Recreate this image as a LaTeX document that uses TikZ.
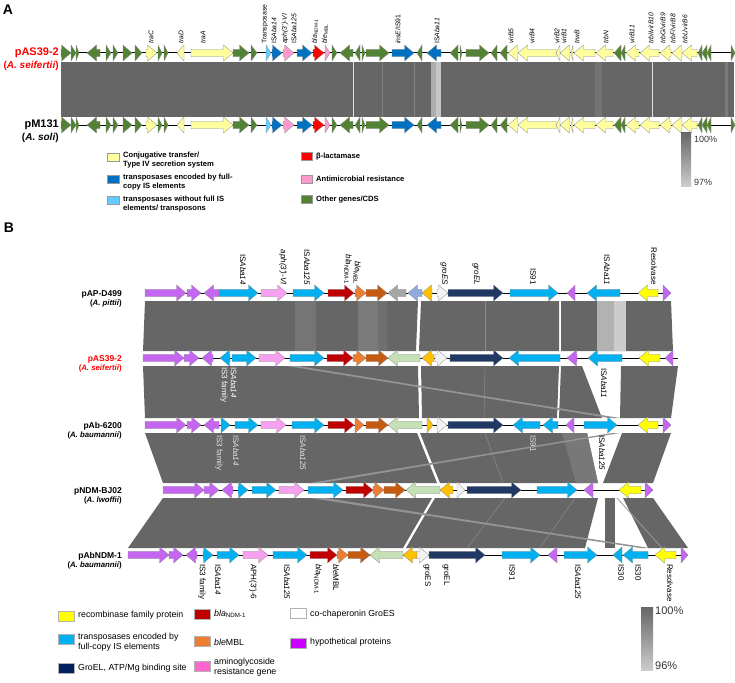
\documentclass[tikz,border=0pt]{standalone}
\usepackage{fontspec}
\setmainfont{Liberation Sans}
\usepackage{xcolor}
\usetikzlibrary{positioning}

\definecolor{bandgray}{RGB}{102,102,102}
\definecolor{cgreen}{RGB}{84,130,53}
\definecolor{cyel}{RGB}{255,255,160}
\definecolor{cblue}{RGB}{0,112,192}
\definecolor{clblue}{RGB}{102,204,255}
\definecolor{cred}{RGB}{255,0,0}
\definecolor{cpink}{RGB}{255,153,204}
\definecolor{hpurple}{RGB}{196,102,240}
\definecolor{hsky}{RGB}{0,176,240}
\definecolor{hpink}{RGB}{248,160,240}
\definecolor{hdred}{RGB}{192,0,0}
\definecolor{horange}{RGB}{237,125,49}
\definecolor{hbrown}{RGB}{197,90,17}
\definecolor{hgray}{RGB}{166,166,166}
\definecolor{hsteel}{RGB}{142,170,219}
\definecolor{hamber}{RGB}{255,192,0}
\definecolor{hwhite}{RGB}{242,242,242}
\definecolor{hnavy}{RGB}{31,56,100}
\definecolor{hlgreen}{RGB}{197,224,180}
\definecolor{hyellow}{RGB}{255,255,0}
\definecolor{kpurple}{RGB}{204,0,255}
\definecolor{knavy}{RGB}{0,32,96}
\definecolor{kpink}{RGB}{255,102,204}

\newcommand{\headlen}{9.5}
\newcommand{\bodyh}{3.7}
\newcommand{\headh}{8}
% gene arrows: x start, x end, y, colour
\newcommand{\gR}[4]{%
  \pgfmathsetmacro{\hx}{max(#1,#2-\headlen)}%
  \filldraw[gene,fill=#4] (#1,#3-\bodyh) -- (\hx,#3-\bodyh) -- (\hx,#3-\headh) -- (#2,#3) -- (\hx,#3+\headh) -- (\hx,#3+\bodyh) -- (#1,#3+\bodyh) -- cycle;}
\newcommand{\gL}[4]{%
  \pgfmathsetmacro{\hx}{min(#2,#1+\headlen)}%
  \filldraw[gene,fill=#4] (#2,#3-\bodyh) -- (\hx,#3-\bodyh) -- (\hx,#3-\headh) -- (#1,#3) -- (\hx,#3+\headh) -- (\hx,#3+\bodyh) -- (#2,#3+\bodyh) -- cycle;}

\begin{document}
\begin{tikzpicture}[x=1pt, y=-1pt,
  every node/.style={font=\fontsize{8}{9.5}\selectfont, inner sep=0pt},
  gene/.style={draw=black!45, line width=0.3pt},
  backbone/.style={line width=1pt, black},
  panel/.style={font=\fontsize{14}{14}\selectfont\bfseries},
  lblA/.style={rotate=90, anchor=west, font=\fontsize{6.8}{7}\selectfont},
  lblB/.style={rotate=-90, anchor=east, font=\fontsize{8}{9}\selectfont},
  lblBd/.style={rotate=-90, anchor=west, align=left, font=\fontsize{8}{9}\selectfont},
  trkA/.style={anchor=east, align=right, font=\fontsize{11}{13}\selectfont\bfseries},
  trkB/.style={anchor=east, align=right, font=\fontsize{8.5}{9}\selectfont\bfseries},
  keyA/.style={draw=black!40, line width=0.3pt, minimum width=12pt, minimum height=8pt},
  keyAt/.style={anchor=north west, align=left, font=\fontsize{7.6}{8.5}\selectfont\bfseries},
  keyB/.style={draw=black!30, line width=0.3pt, minimum width=16pt, minimum height=10pt},
  keyBt/.style={anchor=north west, align=left, font=\fontsize{8.8}{10}\selectfont}]
\useasboundingbox (0,0) rectangle (735,682);

% ---------------- Panel A ----------------
\node[panel] (labA) at (8,10) {A};
\fill[bandgray] (61,62) rectangle (734,117);
\fill[black!12] (352.5,62) rectangle (353.8,117);
\fill[black!50] (381.5,62) rectangle (382.5,117);
\fill[black!48] (413.5,62) rectangle (414.5,117);
\fill[black!32] (431,62) rectangle (436,117);
\fill[black!22] (436,62) rectangle (441,117);
\fill[black!55] (595,62) rectangle (602,117);
\fill[black!12] (651.5,62) rectangle (652.7,117);
\fill[black!52] (725,62) rectangle (728,117);

\foreach \ty in {53,125}{
  \draw[backbone] (61,\ty) -- (735,\ty);
  \foreach \a/\b/\d/\c in {61/71/R/cgreen, 71/76/R/cgreen, 76/79/R/cgreen, 87/100/L/cgreen,
      106/111/R/cgreen, 113/118/R/cgreen, 123/132/R/cgreen, 135/142/R/cgreen, 146/157/R/cyel,
      158/162/R/cgreen, 164/168/R/cgreen, 177/184/L/cyel, 191/233/R/cyel, 233/249/R/cgreen,
      251/257/R/cgreen, 266/271/R/clblue, 272/282/R/cblue, 283/294/R/cpink, 297/312/R/cblue,
      313/324/R/cred, 325/330/R/cpink, 332/337/R/cgreen, 340/353/L/cgreen, 355/360/L/cgreen,
      362/365/R/cgreen, 366/389/R/cgreen, 392/414/R/cblue, 417/422/L/cgreen, 427/441/L/cblue,
      450/458/L/cgreen, 460/462/R/cgreen, 466/489/R/cgreen, 491/497/L/cgreen, 500/507/L/cgreen,
      508/518/L/cyel, 518/556/L/cyel, 556/560/L/cyel, 560/570/L/cyel, 571/573/L/cyel,
      574/595/L/cyel, 596/613/L/cyel, 614/621/L/cgreen, 621/625/L/cgreen, 626/639/L/cyel,
      640/659/L/cyel, 660/671/L/cyel, 672/682/L/cyel, 682/697/L/cyel, 698/702/L/cgreen,
      702/707/L/cgreen, 707/711/L/cgreen, 731/735/R/cgreen}
    {\csname g\d\endcsname{\a}{\b}{\ty}{\c}}
}

\foreach \x/\t in {151/\textit{traC}, 181/\textit{traD}, 203/\textit{traA}, 265/Transposase,
    274/IS\textit{Aba14}, 285/\textit{aph(3')-VI}, 294/IS\textit{Aba125},
    315/{\textit{bla}\textsubscript{NDM-1}}, 325/{\textit{ble}\textsubscript{MBL}},
    398/{\textit{insE}/IS91}, 437/IS\textit{Aba11}, 511/\textit{virB5}, 532/\textit{virB4},
    557/\textit{virB2}, 564/\textit{virB1}, 577/\textit{trwB}, 606/\textit{trbN},
    632/\textit{virB11}, 651/{\textit{trbI}/\textit{virB10}}, 663/{\textit{trbG}/\textit{virB9}},
    673/{\textit{trbF}/\textit{virB8}}, 685/{\textit{trbL}/\textit{virB6}}}
  \node[lblA] (la\x) at (\x,44) {\t};

\node[trkA, text=red] (nmAS) at (59,59.5) {pAS39-2\\{\fontsize{10}{13}\selectfont(\textit{A. seifertii})}};
\node[trkA] (nmM) at (59,131.5) {pM131\\{\fontsize{10}{13}\selectfont(\textit{A. soli})}};

% legend A
\node[keyA, fill=cyel] (kConj) at (113,157) {};
\node[keyAt] (tConj) at (123,152) {Conjugative transfer/\\Type IV secretion system};
\node[keyA, fill=cblue] (kFull) at (113,179) {};
\node[keyAt] (tFull) at (123,174) {transposases encoded by full-\\copy IS elements};
\node[keyA, fill=clblue] (kPart) at (113,200.5) {};
\node[keyAt] (tPart) at (123,196) {transposases without full IS\\elements/ transposons};
\node[keyA, fill=cred, minimum width=11pt] (kBla) at (307,156.5) {};
\node[keyAt] (tBla) at (316,152.5) {β-lactamase};
\node[keyA, fill=cpink, minimum width=11pt] (kAmr) at (307,179.5) {};
\node[keyAt] (tAmr) at (316,175.5) {Antimicrobial resistance};
\node[keyA, fill=cgreen, minimum width=11pt] (kOth) at (307,199.5) {};
\node[keyAt] (tOth) at (316,195.5) {Other genes/CDS};

\shade[top color=bandgray, bottom color=black!20] (681,132) rectangle (691,186);
\node[anchor=west, font=\fontsize{9}{9}\selectfont, text=black!80] (sA1) at (694,139) {100\%};
\node[anchor=west, font=\fontsize{9}{9}\selectfont, text=black!80] (sA2) at (694,182) {97\%};

% ---------------- Panel B ----------------
\node[panel] (labB) at (9,228) {B};

% pAP-D499 / pAS39-2
\fill[bandgray] (145,301) -- (418,301) -- (416,351) -- (143,351) -- cycle;
\fill[black!54] (295,301) rectangle (316,351);
\fill[black!52] (358,301) rectangle (378,351);
\fill[black!56] (378,301) rectangle (387,351);
\fill[bandgray] (421,301) -- (559,301) -- (559,351) -- (419,351) -- cycle;
\draw[black!45, line width=0.6pt] (485,301) -- (485,351);
\fill[bandgray] (561,301) -- (671,301) -- (673,351) -- (561,351) -- cycle;
\fill[black!30] (597,301) rectangle (614,351);
\fill[black!20] (614,301) rectangle (626,351);

% pAS39-2 / pAb-6200
\fill[bandgray] (143,366) -- (418,366) -- (419,418) -- (145,418) -- cycle;
\fill[bandgray] (421,366) -- (559,366) -- (557,418) -- (422,418) -- cycle;
\draw[black!45, line width=0.5pt] (485,366) -- (484,418);
\fill[bandgray] (561,366) -- (582,366) -- (602,418) -- (559,418) -- cycle;
\fill[bandgray] (621,366) -- (678,366) -- (671,418) -- (620,418) -- cycle;
\fill[black!42] (287,366) -- (298,366) -- (620,418) -- (609,418) -- cycle;

% pAb-6200 / pNDM-BJ02
\fill[bandgray] (145,433) -- (417,433) -- (437,483) -- (163,483) -- cycle;
\fill[bandgray] (420,433) -- (587,433) -- (598,483) -- (440,483) -- cycle;
\fill[black!53] (562,433) -- (587,433) -- (598,483) -- (576,483) -- cycle;
\fill[bandgray] (622,433) -- (671,433) -- (653,483) -- (603,483) -- cycle;
\draw[black!45, line width=0.5pt] (485,433) -- (503,483);
\fill[black!42] (612,433) -- (620,433) -- (322,483) -- (310,483) -- cycle;

% pNDM-BJ02 / pAbNDM-1
\fill[bandgray] (163,498) -- (432,498) -- (403,548) -- (128,548) -- cycle;
\fill[bandgray] (435,498) -- (598,498) -- (585,548) -- (406,548) -- cycle;
\fill[bandgray] (605,498) rectangle (615,548);
\fill[bandgray] (623,498) -- (653,498) -- (688,548) -- (648,548) -- cycle;
\draw[black!45, line width=0.5pt] (505,498) -- (467,548);
\draw[black!45, line width=0.5pt] (575,498) -- (540,548);
\draw[black!40, line width=0.8pt] (617,498) -- (662,548);
\fill[black!42] (310,498) -- (325,498) -- (650,548) -- (640,548) -- cycle;

% tracks
\draw[backbone] (145,293) -- (671,293);
\foreach \a/\b/\d/\c in {145/186/R/hpurple, 187/201/R/hpurple, 204/219/L/hpurple, 219/258/R/hsky,
    261/287/R/hpink, 293/324/R/hsky, 328/354/R/hdred, 355/366/R/horange, 366/387/R/hbrown,
    388/406/L/hgray, 408/422/L/hsteel, 422/432/L/hamber, 437/448/R/hwhite, 448/503/R/hnavy,
    510/558/R/hsky, 567/575/L/hpurple, 587/620/L/hsky, 638/658/L/hyellow, 663/671/R/hpurple}
  {\csname g\d\endcsname{\a}{\b}{293}{\c}}

\draw[backbone] (143,358) -- (678,358);
\foreach \a/\b/\d/\c in {143/184/R/hpurple, 184/199/R/hpurple, 202/213/L/hpurple, 220/230/L/hsky,
    232/256/R/hsky, 259/285/R/hpink, 290/324/R/hsky, 327/353/R/hdred, 353/366/R/horange,
    366/388/R/hbrown, 388/420/L/hlgreen, 422/434/L/hamber, 435/447/R/hwhite, 450/503/R/hnavy,
    509/560/L/hsky, 567/577/L/hpurple, 588/622/L/hsky, 639/660/L/hyellow, 665/673/L/hpurple}
  {\csname g\d\endcsname{\a}{\b}{358}{\c}}

\draw[backbone] (145,425) -- (671,425);
\foreach \a/\b/\d/\c in {145/186/R/hpurple, 187/201/R/hpurple, 204/219/L/hpurple, 221/230/R/hsky,
    235/258/R/hsky, 261/286/R/hpink, 292/324/R/hsky, 328/354/R/hdred, 355/364/R/horange,
    366/388/R/hbrown, 388/422/L/hlgreen, 427/433/R/hamber, 437/447/R/hwhite, 448/503/R/hnavy,
    513/540/L/hsky, 543/558/L/hsky, 566/574/L/hpurple, 584/617/R/hsky, 638/658/L/hyellow,
    663/671/R/hpurple}
  {\csname g\d\endcsname{\a}{\b}{425}{\c}}

\draw[backbone] (163,490) -- (653,490);
\foreach \a/\b/\d/\c in {163/204/R/hpurple, 204/219/R/hpurple, 222/233/L/hpurple, 238/248/R/hsky,
    252/276/R/hsky, 279/304/R/hpink, 308/343/R/hsky, 346/373/R/hdred, 373/384/R/horange,
    384/405/R/hbrown, 406/440/L/hlgreen, 440/453/L/hamber, 457/465/R/hwhite, 467/521/R/hnavy,
    537/577/R/hsky, 584/593/L/hpurple, 619/641/L/hyellow, 645/653/R/hpurple}
  {\csname g\d\endcsname{\a}{\b}{490}{\c}}

\draw[backbone] (128,555) -- (688,555);
\foreach \a/\b/\d/\c in {128/169/R/hpurple, 169/183/R/hpurple, 186/197/L/hpurple, 203/213/R/hsky,
    217/239/R/hsky, 243/268/R/hpink, 273/307/R/hsky, 310/337/R/hdred, 337/348/R/horange,
    348/370/R/hbrown, 370/403/L/hlgreen, 403/417/L/hamber, 417/429/R/hwhite, 429/485/R/hnavy,
    502/540/R/hsky, 548/557/L/hpurple, 564/597/R/hsky, 613/622/L/hsky, 623/648/L/hsky,
    655/676/L/hyellow, 681/688/R/hpurple}
  {\csname g\d\endcsname{\a}{\b}{555}{\c}}

% track names
\node[trkB] (nmAP) at (122,298.5) {pAP-D499\\{\fontsize{7.8}{9}\selectfont(\textit{A. pittii})}};
\node[trkB, text=red] (nmAS2) at (122,363.5) {pAS39-2\\{\fontsize{7.8}{9}\selectfont(\textit{A. seifertii})}};
\node[trkB] (nmAb) at (122,430.5) {pAb-6200\\{\fontsize{7.8}{9}\selectfont(\textit{A. baumannii})}};
\node[trkB] (nmBJ) at (122,495.5) {pNDM-BJ02\\{\fontsize{7.8}{9}\selectfont(\textit{A. lwoffii})}};
\node[trkB] (nmAbN) at (122,560.5) {pAbNDM-1\\{\fontsize{7.8}{9}\selectfont(\textit{A. baumannii})}};

% gene labels
\foreach \x/\t in {243/IS\textit{Aba14}, 283/\textit{aph(3')-VI}, 307/IS\textit{Aba125},
    348/{\textit{bla}\textsubscript{NDM-1}}, 357/{\textit{ble}\textsubscript{MBL}},
    444/\textit{groES}, 476/\textit{groEL}, 533/IS91, 607/IS\textit{Aba11}, 654/Resolvase}
  \node[lblB] (lt\x) at (\x,285) {\t};

\node[lblBd, text=white] (lw1) at (228.5,367) {IS\textit{Aba14}\\IS3 family};
\node[lblBd] (lw2) at (604,368) {IS\textit{Aba11}};
\foreach \x/\t in {219/IS3 family, 236/IS\textit{Aba14}, 303/IS\textit{Aba125}, 533/IS91}
  \node[lblBd, text=black!12] (lm\x) at (\x,435) {\t};
\node[lblBd] (lm602) at (602,435) {IS\textit{Aba125}};

\foreach \x/\t in {202/IS3 family, 218/IS\textit{Aba14}, 253/APH(3')-6, 287/IS\textit{Aba125},
    318/{\textit{bla}\textsubscript{NDM-1}}, 336/{\textit{ble}MBL}, 427/groES, 446/groEL,
    512/IS91, 578/IS\textit{Aba125}, 621/IS30, 638/IS30, 670/Resolvase}
  \node[lblBd] (lbo\x) at (\x,564) {\t};

% legend B
\node[keyB, fill=hyellow] (kRec) at (66,616) {};
\node[keyBt] (tRec) at (78,610.5) {recombinase family protein};
\node[keyB, fill=hsky] (kTra) at (66,639.5) {};
\node[keyBt] (tTra) at (78,633) {transposases encoded by\\full-copy IS elements};
\node[keyB, fill=knavy] (kGro) at (66,668) {};
\node[keyBt] (tGro) at (78,664) {GroEL, ATP/Mg binding site};
\node[keyB, fill=hdred] (kNdm) at (202,614) {};
\node[keyBt] (tNdm) at (214,610) {\textit{bla}\textsubscript{NDM-1}};
\node[keyB, fill=horange] (kMbl) at (202,641) {};
\node[keyBt] (tMbl) at (214,638.5) {\textit{ble}MBL};
\node[keyB, fill=kpink] (kAmg) at (202,666) {};
\node[keyBt] (tAmg) at (214,658) {aminoglycoside\\resistance gene};
\node[keyB, fill=white] (kGes) at (298,613) {};
\node[keyBt] (tGes) at (310,609.5) {co-chaperonin GroES};
\node[keyB, fill=kpurple] (kHyp) at (298,643) {};
\node[keyBt] (tHyp) at (310,637.5) {hypothetical proteins};

\shade[top color=bandgray, bottom color=black!20] (641,607) rectangle (653,670);
\node[anchor=west, font=\fontsize{11}{11}\selectfont, text=black!80] (sB1) at (655,611) {100\%};
\node[anchor=west, font=\fontsize{11}{11}\selectfont, text=black!80] (sB2) at (655,666) {96\%};
\end{tikzpicture}
\end{document}
